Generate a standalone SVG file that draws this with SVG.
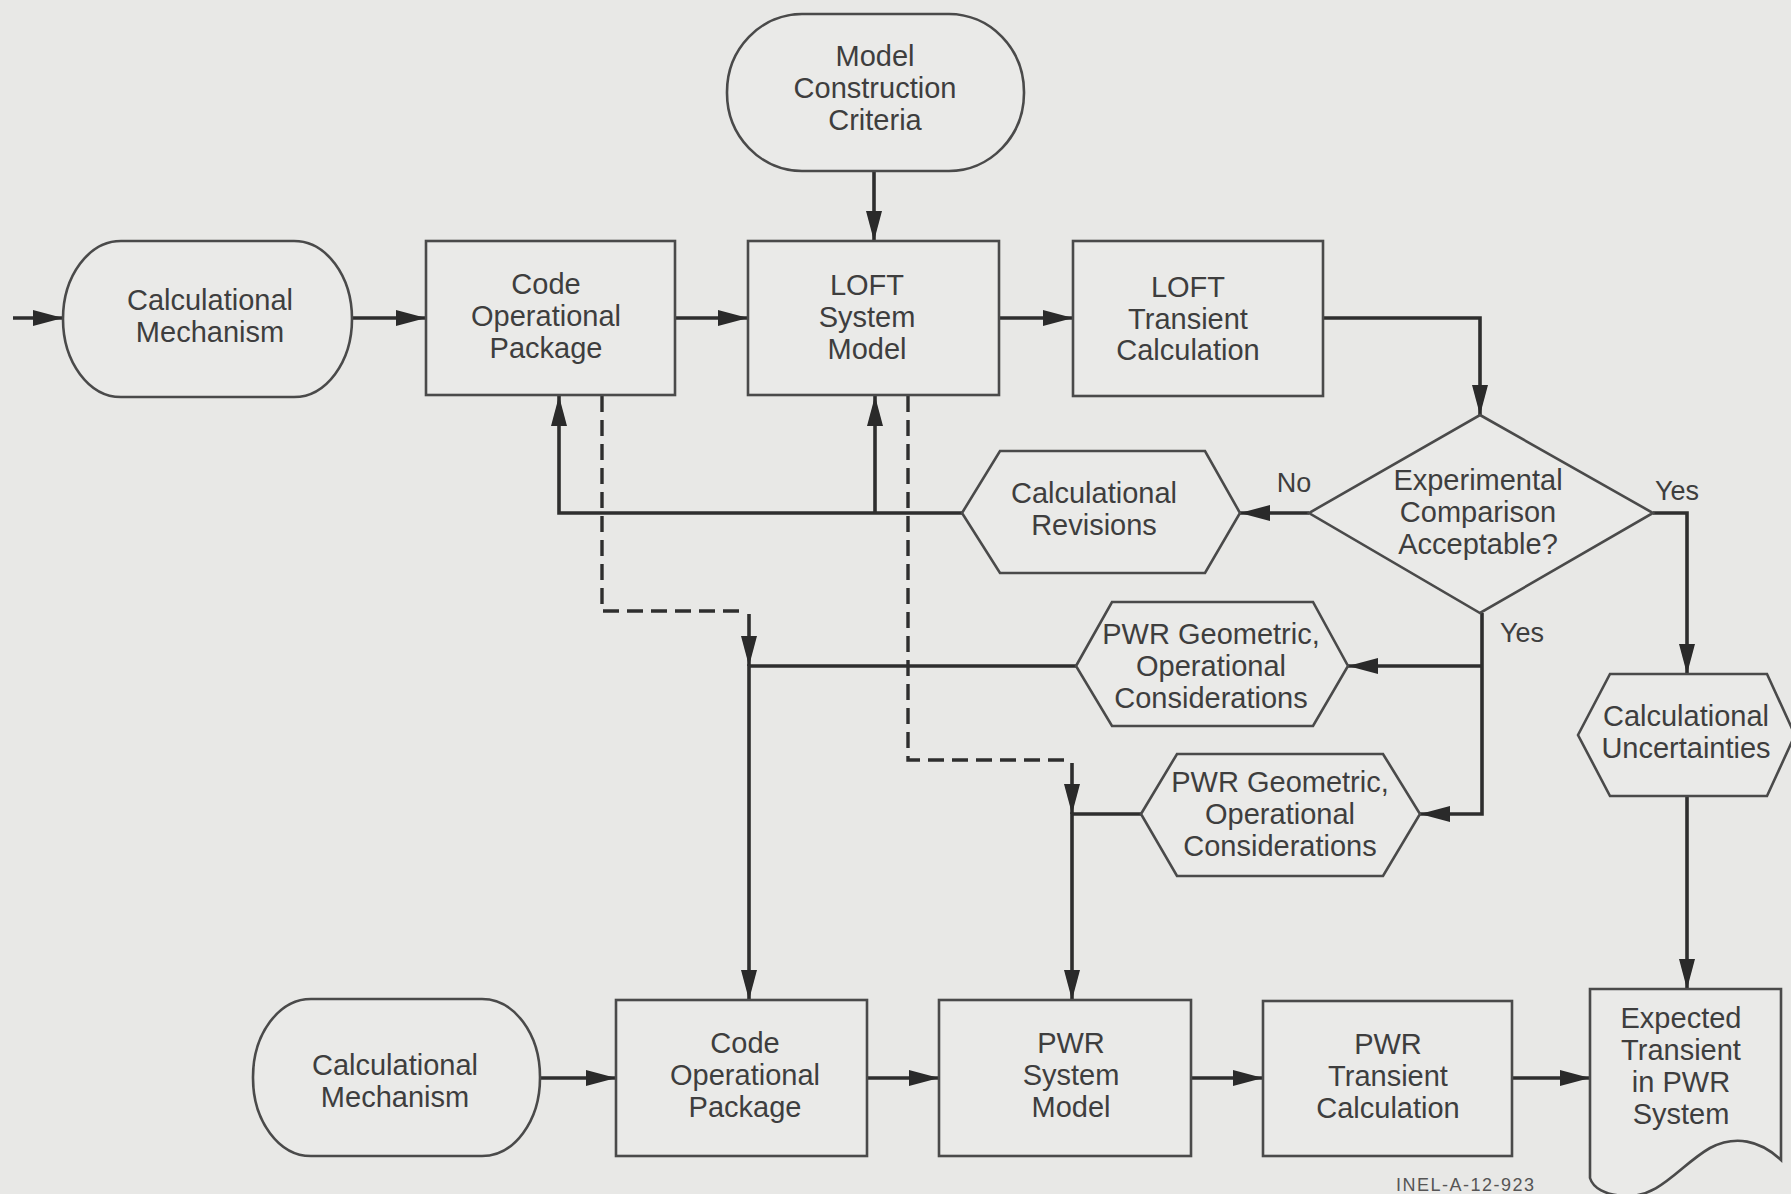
<svg xmlns="http://www.w3.org/2000/svg" width="1791" height="1194" viewBox="0 0 1791 1194">
<style>
.shape{fill:#eaeae8;stroke:#4a4a4a;stroke-width:2.6}
.t{font-family:"Liberation Sans",Arial,sans-serif;font-size:29px;fill:#3e3e3e;text-anchor:middle}
.lbl{font-family:"Liberation Sans",Arial,sans-serif;font-size:27px;fill:#3e3e3e;text-anchor:middle}
.c{fill:none;stroke:#2e2e2e;stroke-width:3.6}
.d{fill:none;stroke:#2e2e2e;stroke-width:3.4;stroke-dasharray:16 8}
.note{font-family:"Liberation Sans",Arial,sans-serif;font-size:18px;letter-spacing:1.5px;fill:#555}
</style>
<defs>
<marker id="ah" markerUnits="userSpaceOnUse" markerWidth="30" markerHeight="16" refX="30" refY="8" orient="auto">
<path d="M0,0 L30,8 L0,16 z" fill="#2a2a2a"/>
</marker>
</defs>
<rect x="0" y="0" width="1791" height="1194" fill="#e8e8e6"/>

<g id="connectors">
<line class="c" x1="13" y1="318" x2="63" y2="318" marker-end="url(#ah)"/>
<line class="c" x1="352" y1="318" x2="426" y2="318" marker-end="url(#ah)"/>
<line class="c" x1="675" y1="318" x2="748" y2="318" marker-end="url(#ah)"/>
<line class="c" x1="999" y1="318" x2="1073" y2="318" marker-end="url(#ah)"/>
<line class="c" x1="874" y1="172" x2="874" y2="241" marker-end="url(#ah)"/>
<polyline class="c" points="1323,318 1480,318 1480,415" marker-end="url(#ah)"/>
<line class="c" x1="1309" y1="513" x2="1240" y2="513" marker-end="url(#ah)"/>
<polyline class="c" points="962,513 559,513 559,396" marker-end="url(#ah)"/>
<line class="c" x1="875" y1="513" x2="875" y2="396" marker-end="url(#ah)"/>
<polyline class="d" points="602,396 602,611 747,611"/>
<line class="c" x1="749" y1="614" x2="749" y2="666" marker-end="url(#ah)"/>
<polyline class="d" points="908,396 908,760 1068,760"/>
<line class="c" x1="1072" y1="763" x2="1072" y2="814" marker-end="url(#ah)"/>
<polyline class="c" points="1076,666 749,666 749,1000" marker-end="url(#ah)"/>
<polyline class="c" points="1141,814 1072,814 1072,1000" marker-end="url(#ah)"/>
<polyline class="c" points="1482,613 1482,814 1420,814" marker-end="url(#ah)"/>
<line class="c" x1="1482" y1="666" x2="1348" y2="666" marker-end="url(#ah)"/>
<polyline class="c" points="1653,513 1687,513 1687,674" marker-end="url(#ah)"/>
<line class="c" x1="1687" y1="796" x2="1687" y2="989" marker-end="url(#ah)"/>
<line class="c" x1="540" y1="1078" x2="616" y2="1078" marker-end="url(#ah)"/>
<line class="c" x1="867" y1="1078" x2="939" y2="1078" marker-end="url(#ah)"/>
<line class="c" x1="1191" y1="1078" x2="1263" y2="1078" marker-end="url(#ah)"/>
<line class="c" x1="1512" y1="1078" x2="1590" y2="1078" marker-end="url(#ah)"/>
<text class="lbl" x="1294" y="492">No</text>
<text class="lbl" x="1677" y="500">Yes</text>
<text class="lbl" x="1522" y="642">Yes</text>
</g>

<g id="model-construction-criteria">
<rect class="shape" x="727" y="14" width="297" height="157" rx="75" ry="78"/>
<text class="t" x="875" y="66">Model</text>
<text class="t" x="875" y="98">Construction</text>
<text class="t" x="875" y="130">Criteria</text>
</g>

<g id="calc-mechanism-top">
<rect class="shape" x="63" y="241" width="289" height="156" rx="58" ry="78"/>
<text class="t" x="210" y="310">Calculational</text>
<text class="t" x="210" y="342">Mechanism</text>
</g>

<g id="code-op-package-top">
<rect class="shape" x="426" y="241" width="249" height="154"/>
<text class="t" x="546" y="294">Code</text>
<text class="t" x="546" y="326">Operational</text>
<text class="t" x="546" y="358">Package</text>
</g>

<g id="loft-system-model">
<rect class="shape" x="748" y="241" width="251" height="154"/>
<text class="t" x="867" y="295">LOFT</text>
<text class="t" x="867" y="327">System</text>
<text class="t" x="867" y="359">Model</text>
</g>

<g id="loft-transient-calc">
<rect class="shape" x="1073" y="241" width="250" height="155"/>
<text class="t" x="1188" y="297">LOFT</text>
<text class="t" x="1188" y="329">Transient</text>
<text class="t" x="1188" y="360">Calculation</text>
</g>

<g id="experimental-comparison">
<polygon class="shape" points="1480,415 1653,513 1480,613 1309,513"/>
<text class="t" x="1478" y="490">Experimental</text>
<text class="t" x="1478" y="522">Comparison</text>
<text class="t" x="1478" y="554">Acceptable?</text>
</g>

<g id="calc-revisions">
<polygon class="shape" points="962,513 1000,451 1205,451 1240,513 1205,573 1000,573"/>
<text class="t" x="1094" y="503">Calculational</text>
<text class="t" x="1094" y="535">Revisions</text>
</g>

<g id="pwr-geometric-1">
<polygon class="shape" points="1076,666 1112,602 1313,602 1348,666 1313,726 1112,726"/>
<text class="t" x="1211" y="644">PWR Geometric,</text>
<text class="t" x="1211" y="676">Operational</text>
<text class="t" x="1211" y="708">Considerations</text>
</g>

<g id="pwr-geometric-2">
<polygon class="shape" points="1141,814 1177,754 1383,754 1420,814 1383,876 1177,876"/>
<text class="t" x="1280" y="792">PWR Geometric,</text>
<text class="t" x="1280" y="824">Operational</text>
<text class="t" x="1280" y="856">Considerations</text>
</g>

<g id="calc-uncertainties">
<polygon class="shape" points="1578,735 1610,674 1767,674 1795,735 1767,796 1610,796"/>
<text class="t" x="1686" y="726">Calculational</text>
<text class="t" x="1686" y="758">Uncertainties</text>
</g>

<g id="calc-mechanism-bottom">
<rect class="shape" x="253" y="999" width="287" height="157" rx="58" ry="78"/>
<text class="t" x="395" y="1075">Calculational</text>
<text class="t" x="395" y="1107">Mechanism</text>
</g>

<g id="code-op-package-bottom">
<rect class="shape" x="616" y="1000" width="251" height="156"/>
<text class="t" x="745" y="1053">Code</text>
<text class="t" x="745" y="1085">Operational</text>
<text class="t" x="745" y="1117">Package</text>
</g>

<g id="pwr-system-model">
<rect class="shape" x="939" y="1000" width="252" height="156"/>
<text class="t" x="1071" y="1053">PWR</text>
<text class="t" x="1071" y="1085">System</text>
<text class="t" x="1071" y="1117">Model</text>
</g>

<g id="pwr-transient-calc">
<rect class="shape" x="1263" y="1001" width="249" height="155"/>
<text class="t" x="1388" y="1054">PWR</text>
<text class="t" x="1388" y="1086">Transient</text>
<text class="t" x="1388" y="1118">Calculation</text>
</g>

<g id="expected-transient">
<path class="shape" d="M1590,989 H1781 V1160 C1760,1140 1735,1135 1710,1148 C1680,1165 1660,1198 1625,1196 C1605,1195 1593,1188 1590,1178 Z"/>
<text class="t" x="1681" y="1028">Expected</text>
<text class="t" x="1681" y="1060">Transient</text>
<text class="t" x="1681" y="1092">in PWR</text>
<text class="t" x="1681" y="1124">System</text>
</g>

<text class="note" x="1396" y="1191">INEL-A-12-923</text>
</svg>
